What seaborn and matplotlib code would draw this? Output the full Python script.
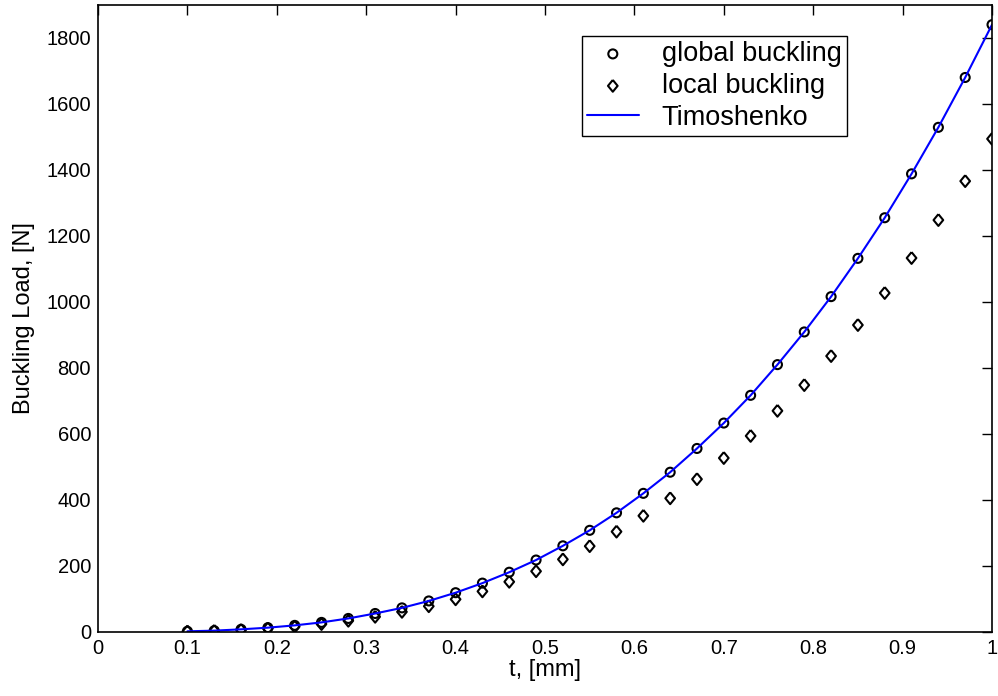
import numpy as np
import pandas as pd
import matplotlib
matplotlib.use("Agg")
import matplotlib.pyplot as plt
from matplotlib.ticker import FuncFormatter
import seaborn as sns

# ==========================================
# data
# ==========================================
t_mm = [0.10, 0.13, 0.16, 0.19, 0.22, 0.25, 0.28, 0.31, 0.34, 0.37, 0.40,
        0.43, 0.46, 0.49, 0.52, 0.55, 0.58, 0.61, 0.64, 0.67, 0.70,
        0.73, 0.76, 0.79, 0.82, 0.85, 0.88, 0.91, 0.94, 0.97, 1.00]

global_buckling = [2, 4, 8, 13, 20, 29, 41, 56, 73, 94, 119,
                   148, 181, 218, 261, 308, 361, 420, 484, 556, 633,
                   717, 810, 909, 1016, 1132, 1255, 1388, 1529, 1680, 1840]

local_buckling = [1.6, 3.5, 6.3, 10.5, 16, 24, 34, 46, 61, 78, 99,
                  123, 152, 184, 220, 260, 304, 352, 405, 463, 527,
                  594, 670, 748, 836, 930, 1027, 1133, 1248, 1366, 1494]

timoshenko = [2, 4, 8, 13, 20, 29, 41, 56, 73, 94, 119,
              148, 181, 218, 261, 308, 361, 420, 484, 556, 633,
              717, 810, 909, 1016, 1132, 1255, 1388, 1529, 1680, 1840]

x_ticks = [0, 0.1, 0.2, 0.3, 0.4, 0.5, 0.6, 0.7, 0.8, 0.9, 1]
y_ticks = [0, 200, 400, 600, 800, 1000, 1200, 1400, 1600, 1800]

df = pd.DataFrame({"t": t_mm, "global": global_buckling,
                   "local": local_buckling, "timo": timoshenko})

# MATLAB-like diamond: a bit taller than wide
diamond = [(0, 1), (0.82, 0), (0, -1), (-0.82, 0), (0, 1)]

# ==========================================
# style
# ==========================================
sns.set_style("white")
plt.rcParams["font.family"] = ["Liberation Sans", "DejaVu Sans"]
plt.rcParams["text.color"] = "black"
plt.rcParams["axes.labelcolor"] = "black"

fig = plt.figure(figsize=(9.98, 6.96), dpi=100)
ax = fig.add_axes([0.0982, 0.092, 0.8958, 0.901])

sns.scatterplot(data=df, x="t", y="global", ax=ax, marker="o", s=42,
                facecolor="none", edgecolor="black", linewidth=1.5,
                label="global buckling")
sns.scatterplot(data=df, x="t", y="local", ax=ax, marker=diamond, s=72,
                facecolor="none", edgecolor="black", linewidth=1.5,
                label="local buckling")
sns.lineplot(data=df, x="t", y="timo", ax=ax, color="#0000ff",
             linewidth=1.5, label="Timoshenko")

ax.set_xlim(0, 1)
ax.set_ylim(0, 1900)
ax.set_xticks(x_ticks)
ax.set_yticks(y_ticks)
ax.xaxis.set_major_formatter(FuncFormatter(lambda v, p: f"{v:g}"))
ax.tick_params(direction="in", length=7, width=1, top=True, right=True,
               labelsize=14.5, pad=5, colors="black")
for sp in ax.spines.values():
    sp.set_visible(True)
    sp.set_color("black")
    sp.set_linewidth(1.2)

ax.set_xlabel("t, [mm]", fontsize=17, labelpad=1, color="black")
ax.set_ylabel("Buckling Load, [N]", fontsize=17, labelpad=8, color="black")

leg = ax.legend(loc="upper left", bbox_to_anchor=(0.541, 0.951),
                borderaxespad=0, fontsize=19.5, frameon=True, fancybox=False,
                edgecolor="black", framealpha=1, handlelength=1.9,
                handletextpad=0.85, labelspacing=0.22, borderpad=0.2,
                labelcolor="black")
leg.get_frame().set_linewidth(1.0)

plt.savefig("out.png", dpi=100)
